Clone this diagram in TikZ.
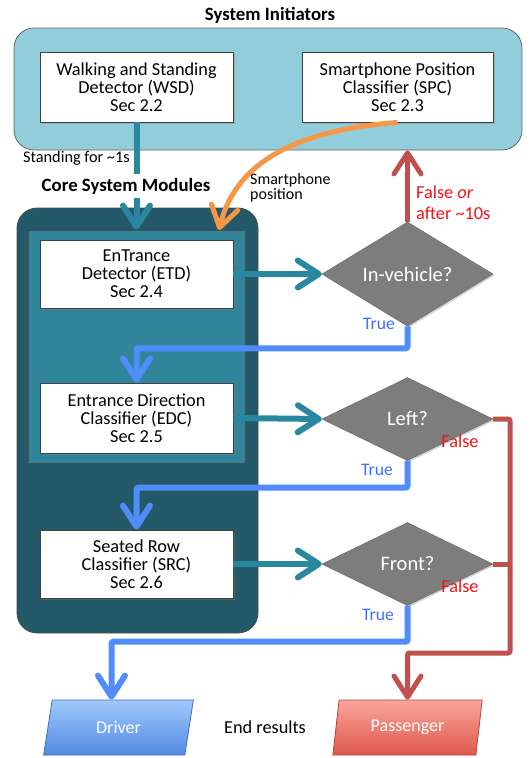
\documentclass[tikz,border=0pt]{standalone}
\usepackage{fontspec}
\setmainfont{Carlito}
\usetikzlibrary{arrows.meta,shapes.geometric,shadows,calc}
\definecolor{lightbg}{RGB}{146,205,220}
\definecolor{darkteal}{RGB}{35,89,104}
\definecolor{midteal}{RGB}{49,133,155}
\definecolor{tealarrow}{RGB}{42,135,160}
\definecolor{bluearrow}{RGB}{80,140,250}
\definecolor{redarrow}{RGB}{192,80,77}
\definecolor{orangearrow}{RGB}{247,150,70}
\definecolor{truetext}{RGB}{60,110,255}
\definecolor{falsetext}{RGB}{240,20,20}
\definecolor{diamondgray}{RGB}{125,125,125}
\definecolor{drvtop}{RGB}{160,200,252}
\definecolor{drvbot}{RGB}{82,138,226}
\definecolor{pastop}{RGB}{250,165,155}
\definecolor{pasbot}{RGB}{222,88,76}
\begin{document}
\begin{tikzpicture}[x=1pt,y=-1pt,
  module/.style={draw=black!75, fill=white, line width=0.8pt, minimum width=193pt,
    minimum height=69pt, align=center, font=\fontsize{18.3}{18}\selectfont, inner sep=0pt,
    drop shadow={opacity=0.35, shadow xshift=1.5pt, shadow yshift=-1.5pt}},
  decision/.style={diamond, draw=black!60, fill=diamondgray, minimum width=171pt,
    minimum height=83pt, inner sep=0pt, text=white, font=\fontsize{20.5}{22}\selectfont,
    drop shadow={opacity=0.35, shadow xshift=1.5pt, shadow yshift=-1.5pt}},
  result/.style={trapezium, trapezium left angle=77, trapezium right angle=103,
    trapezium stretches=true, minimum width=150pt, minimum height=55pt, inner sep=0pt,
    text=white, font=\fontsize{18}{20}\selectfont, line width=0.8pt},
  barb/.tip={Straight Barb[length=21pt,width=27pt,round]},
  flow/.style={line width=6pt, -barb, rounded corners=2pt},
  lbl/.style={font=\fontsize{16.3}{17}\selectfont, inner sep=0pt},
  hdr/.style={font=\bfseries\fontsize{18.8}{20}\selectfont, inner sep=0pt},
  truel/.style={font=\fontsize{17.6}{18}\selectfont, text=truetext, inner sep=0pt},
  falsel/.style={font=\fontsize{18.3}{21}\selectfont, text=falsetext, inner sep=0pt}
]
\useasboundingbox (0,0) rectangle (531,758);

% containers
\node[draw=black!60, fill=lightbg, rounded corners=20pt, line width=0.8pt,
  minimum width=508pt, minimum height=122pt, inner sep=0pt] (init) at (268,89) {};
\node[hdr] (inittitle) at (270,15) {System Initiators};

\node[draw=black!70, fill=darkteal, rounded corners=20pt, line width=0.8pt,
  minimum width=241pt, minimum height=425pt, inner sep=0pt] (core) at (137.5,420.5) {};
\node[draw=black!70, fill=midteal, line width=0.8pt,
  minimum width=217pt, minimum height=233pt, inner sep=0pt] (inner) at (136.5,346.5) {};

% modules
\node[module, minimum height=70pt] (wsd) at (136.5,87) {Walking and Standing\\Detector (WSD)\\Sec 2.2};
\node[module, minimum width=191pt, minimum height=70pt] (spc) at (397.5,87) {Smartphone Position\\Classifier (SPC)\\Sec 2.3};
\node[module, minimum height=68pt] (etd) at (136.5,274) {EnTrance\\Detector (ETD)\\Sec 2.4};
\node[module, minimum height=70pt] (edc) at (136.5,418) {Entrance Direction\\Classifier (EDC)\\Sec 2.5};
\node[module, minimum height=68pt] (src) at (136.5,564) {Seated Row\\Classifier (SRC)\\Sec 2.6};

% decisions
\node[decision] (inveh) at (407.5,274) {In-vehicle?};
\node[decision] (left) at (407.5,419) {Left?};
\node[decision] (front) at (407.5,564) {Front?};

% results
\node[result, draw=drvbot!80!black, top color=drvtop, bottom color=drvbot] (driver) at (118.5,727.5) {Driver};
\node[result, draw=pasbot!80!black, top color=pastop, bottom color=pasbot] (passenger) at (407.5,727.5) {Passenger};
\node[font=\fontsize{18.3}{18}\selectfont, inner sep=0pt] (endres) at (265,727) {End results};

% coordinates
\coordinate (orangeend) at (219,230);
\coordinate (rc) at (510,653);

% initiator arrows
\draw[flow, tealarrow] (wsd.south) -- (wsd.south |- inner.north);
\node[hdr, fill=white, inner sep=4pt] (coretitle) at (126,186) {Core System Modules};
\node[lbl, anchor=east] (standlbl) at (130,158) {Standing for \textasciitilde1s};

\draw[line width=5pt, orangearrow, -barb] (spc.south) .. controls (300,130) and (236,160) .. (orangeend);
\node[lbl, align=left, anchor=west, font=\fontsize{16}{15.5}\selectfont] (smlbl) at (250,187.5) {Smartphone\\position};

% module to decision
\draw[flow, tealarrow] (etd.east) -- (inveh.west);
\draw[flow, tealarrow] (edc.east) -- (left.west);
\draw[flow, tealarrow] (src.east) -- (front.west);

% true paths
\draw[flow, bluearrow] (inveh.south) -- ++(0,22) -| (edc.north);
\draw[flow, bluearrow] (left.south) -- ++(0,27) -| (src.north);
\draw[flow, bluearrow] (front.south) -- ++(0,36) -| ([xshift=-7pt]driver.north);
\node[truel] (t1) at (379,324) {True};
\node[truel] (t2) at (377,470) {True};
\node[truel] (t3) at (378,615) {True};

% false paths
\draw[line width=5pt, redarrow, -barb] (inveh.north) -- (inveh.north |- init.south);
\node[falsel, align=left, anchor=west] (f0) at (416,202.5) {False \textit{or}\\after \textasciitilde10s};
\draw[line width=5pt, redarrow, -barb, rounded corners=2pt] (left.east) -| (rc) -| (passenger.north);
\draw[line width=5pt, redarrow] (front.east) -- (front.east -| rc);
\node[falsel] (f1) at (460,441) {False};
\node[falsel] (f2) at (460,586) {False};
\end{tikzpicture}
\end{document}
